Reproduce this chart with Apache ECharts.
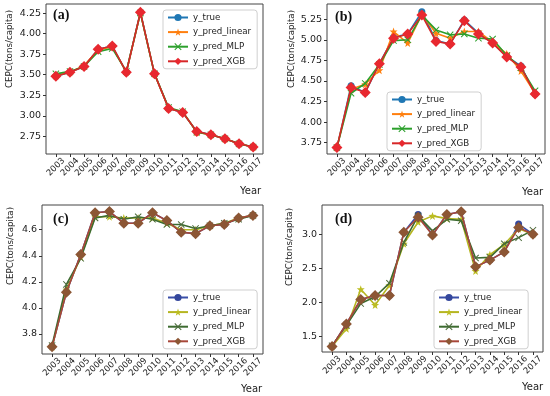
<!DOCTYPE html>
<html>
<head>
<meta charset="utf-8">
<script src="https://cdn.jsdelivr.net/npm/echarts@6/dist/echarts.min.js"></script>
<style>html,body{margin:0;padding:0;background:#fff}#c{width:550px;height:396px}</style>
</head>
<body>
<div id="c"></div>
<script>
// ---------- data ----------
var years = [2003,2004,2005,2006,2007,2008,2009,2010,2011,2012,2013,2014,2015,2016,2017];
var seriesNames = ['y_true','y_pred_linear','y_pred_MLP','y_pred_XGB'];
var panelLabels = ['(a)','(b)','(c)','(d)'];
var yTicksA = [2.75,3.00,3.25,3.50,3.75,4.00,4.25];
var yTicksB = [3.75,4.00,4.25,4.50,4.75,5.00,5.25];
var yTicksC = [3.8,4.0,4.2,4.4,4.6];
var yTicksD = [1.5,2.0,2.5,3.0];

var aTrue   = [3.48,3.53,3.60,3.81,3.85,3.53,4.26,3.51,3.09,3.04,2.81,2.77,2.72,2.66,2.62];
var aLinear = [3.49,3.53,3.61,3.80,3.84,3.53,4.25,3.51,3.09,3.05,2.80,2.77,2.72,2.66,2.62];
var aMLP    = [3.51,3.54,3.60,3.78,3.82,3.54,4.25,3.51,3.10,3.05,2.80,2.77,2.72,2.66,2.62];
var aXGB    = [3.48,3.53,3.60,3.81,3.85,3.53,4.26,3.51,3.09,3.04,2.81,2.77,2.72,2.66,2.62];

var bTrue   = [3.69,4.44,4.36,4.71,5.03,5.07,5.34,4.99,4.95,5.24,5.08,4.96,4.80,4.68,4.34];
var bLinear = [3.69,4.40,4.46,4.63,5.10,4.96,5.31,5.08,5.02,5.10,5.10,4.97,4.83,4.62,4.35];
var bMLP    = [3.69,4.35,4.47,4.70,4.99,5.00,5.30,5.12,5.06,5.07,5.02,5.01,4.81,4.66,4.38];
var bXGB    = [3.69,4.42,4.36,4.71,5.02,5.07,5.30,4.98,4.95,5.23,5.07,4.96,4.79,4.67,4.34];

var cTrue   = [3.70,4.12,4.41,4.73,4.74,4.65,4.65,4.73,4.67,4.58,4.57,4.63,4.64,4.69,4.71];
var cLinear = [3.70,4.14,4.39,4.70,4.70,4.69,4.69,4.69,4.65,4.60,4.60,4.63,4.65,4.69,4.71];
var cMLP    = [3.71,4.18,4.38,4.69,4.71,4.68,4.70,4.68,4.64,4.64,4.61,4.63,4.65,4.68,4.71];
var cXGB    = [3.70,4.12,4.41,4.73,4.74,4.65,4.65,4.73,4.67,4.58,4.57,4.63,4.64,4.69,4.71];

var dTrue   = [1.35,1.68,2.04,2.10,2.10,3.03,3.29,2.99,3.29,3.33,2.52,2.62,2.74,3.15,3.00];
var dLinear = [1.35,1.61,2.19,1.96,2.25,2.86,3.18,3.27,3.23,3.22,2.46,2.70,2.85,3.08,3.00];
var dMLP    = [1.36,1.66,1.98,2.08,2.28,2.88,3.27,3.05,3.22,3.20,2.65,2.66,2.86,2.95,3.06];
var dXGB    = [1.35,1.68,2.04,2.10,2.10,3.03,3.25,2.99,3.29,3.33,2.52,2.62,2.74,3.10,3.00];

// ---------- styling / layout ----------
var STAR = 'path://M0,-10L2.35,-3.24L9.51,-3.09L3.8,1.24L5.88,8.09L0,4L-5.88,8.09L-3.8,1.24L-9.51,-3.09L-2.35,-3.24Z';
var XMARK = 'path://M-5,-4L-4,-5L0,-1L4,-5L5,-4L1,0L5,4L4,5L0,1L-4,5L-5,4L-1,0Z';
var paletteAB = [
  {line:'#1f77b4', mark:'#1f77b4'},
  {line:'#ff7f0e', mark:'#ff7f0e'},
  {line:'#2ca02c', mark:'#2ca02c'},
  {line:'#d62728', mark:'#e8282f'}
];
var paletteCD = [
  {line:'#3a4fa8', mark:'#34479c'},
  {line:'#b5b520', mark:'#bcbd22'},
  {line:'#3d6b30', mark:'#4a6a3a'},
  {line:'#a8473a', mark:'#8c5634'}
];
var symbols = [
  {s:'circle', size:7},
  {s:STAR, size:8},
  {s:XMARK, size:7},
  {s:'diamond', size:11}
];
var panels = [
  {data:[aTrue,aLinear,aMLP,aXGB], grid:{left:46, top:4, width:217, height:150}, ymin:2.535, ymax:4.36, ticks:yTicksA, dec:2, pal:paletteAB, suffix:'',
   legend:{left:163, top:10}, ylab:[10,49], year:[240,191], plabel:[53,15]},
  {data:[bTrue,bLinear,bMLP,bXGB], grid:{left:327, top:4, width:218, height:150}, ymin:3.612, ymax:5.435, ticks:yTicksB, dec:2, pal:paletteAB, suffix:'',
   legend:{left:387, top:92}, ylab:[292,49], year:[522,192], plabel:[335,17]},
  {data:[cTrue,cLinear,cMLP,cXGB], grid:{left:42, top:205, width:221, height:149}, ymin:3.645, ymax:4.79, ticks:yTicksC, dec:1, pal:paletteCD, suffix:' ',
   legend:{left:163, top:290}, ylab:[11,246], year:[241,389], plabel:[53,219]},
  {data:[dTrue,dLinear,dMLP,dXGB], grid:{left:322, top:205, width:221, height:147}, ymin:1.268, ymax:3.43, ticks:yTicksD, dec:1, pal:paletteCD, suffix:' ',
   legend:{left:434, top:290}, ylab:[290,247], year:[522,387], plabel:[335,219]}
];

var grids = [], xAxes = [], yAxes = [], series = [], legends = [], graphics = [];
panels.forEach(function(p, i){
  grids.push({left:p.grid.left, top:p.grid.top, width:p.grid.width, height:p.grid.height,
    show:true, borderColor:'#444', borderWidth:1, backgroundColor:'transparent'});
  xAxes.push({type:'value', gridIndex:i, min:2002.3, max:2017.7,
    axisLine:{show:false}, splitLine:{show:false},
    axisTick:{show:true, length:3, customValues:years, lineStyle:{color:'#333'}},
    axisLabel:{customValues:years, rotate:45, align:'center', verticalAlign:'middle', margin:13,
      fontSize:8.5, color:'#222', fontFamily:'DejaVu Sans', formatter:function(v){return String(v);}}});
  yAxes.push({type:'value', gridIndex:i, min:p.ymin, max:p.ymax,
    axisLine:{show:false}, splitLine:{show:false},
    axisTick:{show:true, length:3, customValues:p.ticks, lineStyle:{color:'#333'}},
    axisLabel:{customValues:p.ticks, margin:5, fontSize:9.5, color:'#222', fontFamily:'DejaVu Sans',
      formatter:(function(dec){return function(v){return v.toFixed(dec);};})(p.dec)}});
  var names = [];
  seriesNames.forEach(function(nm, k){
    var name = nm + p.suffix;
    names.push(name);
    series.push({type:'line', name:name, xAxisIndex:i, yAxisIndex:i,
      data: years.map(function(y, j){ return [y, p.data[k][j]]; }),
      symbol:symbols[k].s, symbolSize:symbols[k].size, showSymbol:true, animation:false,
      lineStyle:{color:p.pal[k].line, width:1.6},
      itemStyle:{color:p.pal[k].mark, borderWidth:0},
      z:2+k});
  });
  legends.push({left:p.legend.left, top:p.legend.top, orient:'vertical', data:names,
    itemWidth:20, itemHeight:9, itemGap:5.6, padding:[3,6,3,4],
    borderColor:'#cfcfcf', borderWidth:1, borderRadius:3, backgroundColor:'rgba(255,255,255,0.85)',
    selectedMode:false,
    textStyle:{fontSize:8.7, color:'#222', fontFamily:'DejaVu Sans'},
    formatter:function(n){return n.trim();}});
  graphics.push({type:'text', x:p.ylab[0], y:p.ylab[1], rotation:Math.PI/2,
    style:{text:'CEPC(tons/capita)', fontSize:8.7, fontFamily:'DejaVu Sans', fill:'#222', align:'center', verticalAlign:'middle'}});
  graphics.push({type:'text', x:p.year[0], y:p.year[1],
    style:{text:'Year', fontSize:10, fontFamily:'DejaVu Sans', fill:'#222', align:'left', verticalAlign:'middle'}});
  graphics.push({type:'text', x:p.plabel[0], y:p.plabel[1], z:10,
    style:{text:panelLabels[i], fontSize:14, fontWeight:'bold', fontFamily:'Liberation Serif', fill:'#111', align:'left', verticalAlign:'middle'}});
});

var chart = echarts.init(document.getElementById('c'), null, {renderer:'canvas'});
chart.setOption({
  animation:false,
  backgroundColor:'#fff',
  grid:grids, xAxis:xAxes, yAxis:yAxes, series:series, legend:legends, graphic:graphics
});
</script>
</body>
</html>
